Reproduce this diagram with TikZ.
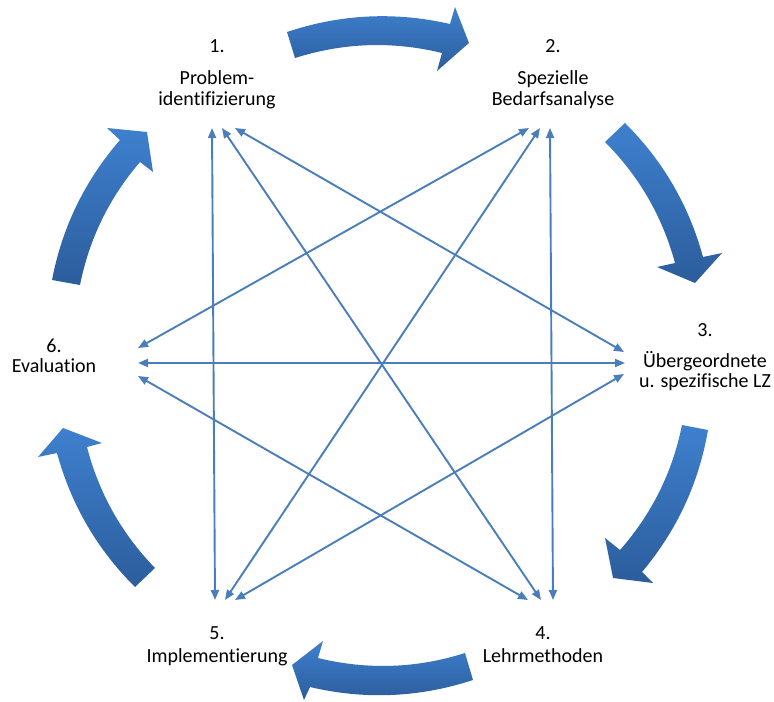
\documentclass[tikz,border=0pt]{standalone}
\usepackage{fontspec}
\setmainfont{Carlito}[Ligatures=NoCommon]
\usetikzlibrary{arrows.meta,calc}
\definecolor{connc}{HTML}{4A7EBB}
\definecolor{arrlight}{HTML}{3E80CE}
\definecolor{arrdark}{HTML}{2C5D9C}
\newcommand{\ringarrow}[9]{%
  \path[bigarrow] (#1) .. controls ($(#1)!2/3!(#2)$) and ($(#3)!2/3!(#2)$) .. (#3)
    -- (#4) -- (#5) -- (#6) -- (#7)
    .. controls ($(#7)!2/3!(#8)$) and ($(#9)!2/3!(#8)$) .. (#9) -- cycle;}
\begin{document}
\begin{tikzpicture}[x=1bp,y=-1bp,
  lbl/.style={font=\fontsize{20bp}{24bp}\selectfont, anchor=base, inner sep=0pt, text=black},
  link/.style={draw=connc, line width=1.9bp, {Triangle[length=10bp,width=8bp]}-{Triangle[length=10bp,width=8bp]}},
  bigarrow/.style={top color=arrlight, bottom color=arrdark, draw=none}]
\useasboundingbox (0,0) rectangle (774,702);

% labels
\node[lbl] (n1a) at (217,53) {1.};
\node[lbl] (n1b) at (217,85) {Problem-};
\node[lbl] (n1c) at (217,106) {identifizierung};
\node[lbl] (n2a) at (553,53) {2.};
\node[lbl] (n2b) at (553,85) {Spezielle};
\node[lbl] (n2c) at (553,106) {Bedarfsanalyse};
\node[lbl] (n3a) at (705,336) {3.};
\node[lbl] (n3b) at (705,367) {Übergeordnete};
\node[lbl] (n3c) at (705,387) {u. spezifische LZ};
\node[lbl] (n4a) at (543,639) {4.};
\node[lbl] (n4b) at (543,662) {Lehrmethoden};
\node[lbl] (n5a) at (217,639) {5.};
\node[lbl] (n5b) at (217,662) {Implementierung};
\node[lbl] (n6a) at (54,352) {6.};
\node[lbl] (n6b) at (54,372) {Evaluation};

% connector end points
\coordinate (e1a) at (212,128);
\coordinate (e1b) at (222,128);
\coordinate (e1c) at (235,128);
\coordinate (e2a) at (529,128);
\coordinate (e2b) at (540,128);
\coordinate (e2c) at (550,128);
\coordinate (e3a) at (624,352);
\coordinate (e3b) at (625,363);
\coordinate (e3c) at (624,374);
\coordinate (e4a) at (528,600);
\coordinate (e4b) at (541,600);
\coordinate (e4c) at (553,600);
\coordinate (e5a) at (215,600);
\coordinate (e5b) at (225,600);
\coordinate (e5c) at (235,600);
\coordinate (e6a) at (138,348);
\coordinate (e6b) at (138,363);
\coordinate (e6c) at (138,376);

% connectors
\draw[link] (e1a) -- (e5a);
\draw[link] (e2c) -- (e4c);
\draw[link] (e6b) -- (e3b);
\draw[link] (e1b) -- (e4b);
\draw[link] (e1c) -- (e3a);
\draw[link] (e2b) -- (e5b);
\draw[link] (e2a) -- (e6a);
\draw[link] (e6c) -- (e4a);
\draw[link] (e3c) -- (e5c);

% cycle arrows
\ringarrow{287,32}{367.4,5.1}{450,24}{455,7}{469,43}{437,71}{442,53}{367.8,34.9}{295,58}
\ringarrow{625,123}{681.9,179.6}{703,257}{722,253}{695,283}{657,267}{675,263}{656.1,193.2}{605,142}
\ringarrow{708,430}{694.2,509.9}{642,572}{653,583}{613,578}{605,538}{620,550}{667.7,495.8}{682,425}
\ringarrow{473,680}{392.5,706.4}{310,687}{304,700}{292,665}{323,641}{318,658}{392.2,676.1}{465,653}
\ringarrow{135,587}{78.1,530.4}{57,453}{38,457}{63,428}{102,443}{87,447}{105,516.5}{155,568}
\ringarrow{52,280}{67.2,200.9}{120,140}{107,128}{147,132}{153,172}{140,162}{93.9,215.7}{80,285}
\end{tikzpicture}
\end{document}
